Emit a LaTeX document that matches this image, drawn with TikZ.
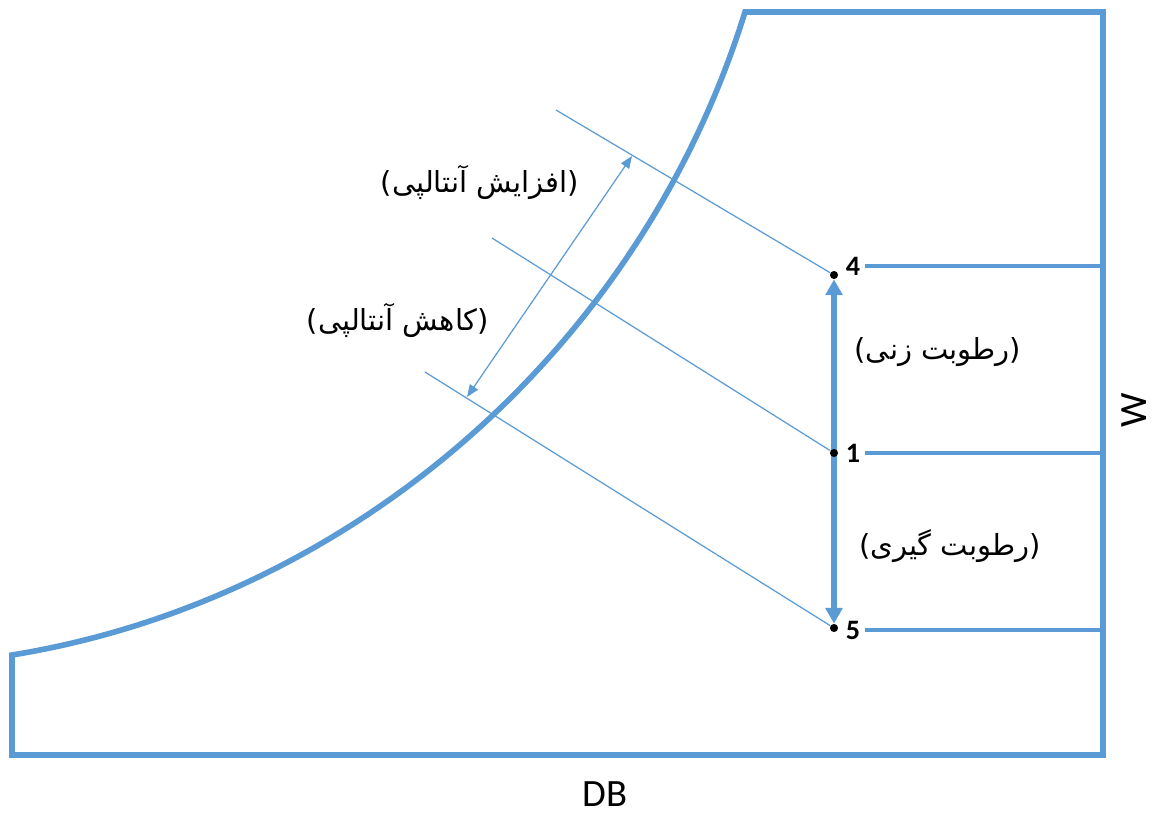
\documentclass[tikz,border=0pt]{standalone}
\usepackage{fontspec}
\usetikzlibrary{arrows.meta,positioning}
\setmainfont{Carlito}
\newfontfamily\fafont[Script=Arabic]{DejaVu Sans}
\TeXXeTstate=1
\definecolor{chartblue}{HTML}{5B9BD5}
\pgfdeclarelayer{bg}
\pgfsetlayers{bg,main}

\begin{document}
\begin{tikzpicture}[x=0.2mm,y=-0.2mm,
    frame/.style={draw=chartblue,line width=3.2pt,line join=miter},
    wline/.style={draw=chartblue,line width=2pt},
    hline/.style={draw=chartblue,line width=0.7pt},
    statept/.style={circle,fill=black,inner sep=0pt,minimum size=4.6pt},
    ptlabel/.style={font=\bfseries\fontsize{16}{16}\selectfont,inner sep=0pt},
    falabel/.style={font=\fafont\fontsize{16.5}{19}\selectfont,inner sep=0pt},
    axlabel/.style={font=\fontsize{22}{22}\selectfont,inner sep=0pt,
        text height=0.64em,text depth=0pt}]
    \useasboundingbox (0,0) rectangle (1156,816);

    % Frame and saturation curve
    \coordinate (cbot) at (12,655);
    \coordinate (ctop) at (745,12);
    \coordinate (tr) at (1103,12);
    \coordinate (br) at (1103,755);
    \coordinate (bl) at (12,755);
    \draw[frame] (cbot) .. controls (350,600) and (640,350) .. (ctop)
        -- (tr) -- (br) -- (bl) -- cycle;

    % State points
    \node[statept] (p4) at (834,275) {};
    \node[statept] (p1) at (834,453) {};
    \node[statept] (p5) at (834,628) {};
    \node[ptlabel] (n4) at (853,266) {4};
    \node[ptlabel] (n1) at (853,453) {1};
    \node[ptlabel] (n5) at (853,630) {5};

    % Lines to the W axis
    \draw[wline] (n4.east) ++(2.5pt,0) -- (n4.east -| tr);
    \draw[wline] (n1.east) ++(2.5pt,0) -- (n1.east -| tr);
    \draw[wline] (n5.east) ++(2.5pt,0) -- (n5.east -| tr);

    % Humidifying / dehumidifying
    \begin{pgfonlayer}{bg}
    \draw[chartblue,line width=3pt,{Triangle[length=9pt,width=9.5pt]}-{Triangle[length=9pt,width=9.5pt]}] (p5) -- (p4);
    \end{pgfonlayer}
    \node[falabel] (hum) at (938,352) {\beginR(رطوبت زنی)\endR};
    \node[falabel] (dehum) at (950,546) {\beginR(رطوبت گیری)\endR};

    % Enthalpy lines
    \coordinate (e4) at (556,110);
    \coordinate (e1) at (492,238);
    \coordinate (e5) at (425,372);
    \draw[hline] (e4) -- (p4);
    \draw[hline] (e1) -- (p1);
    \draw[hline] (e5) -- (p5);
    \coordinate (ahi) at (632,156);
    \coordinate (alo) at (467,397);
    \draw[hline,{Triangle[length=7pt,width=5.5pt]}-{Triangle[length=7pt,width=5.5pt]}] (alo) -- (ahi);
    \node[falabel] (hinc) at (480,182) {\beginR(افزایش آنتالپی)\endR};
    \node[falabel] (hdec) at (398,320) {\beginR(کاهش آنتالپی)\endR};

    % Axis names
    \node[axlabel] (db) at (605,801) {DB};
    \node[axlabel,rotate=90] (w) at (1141,410) {W};
\end{tikzpicture}
\end{document}
